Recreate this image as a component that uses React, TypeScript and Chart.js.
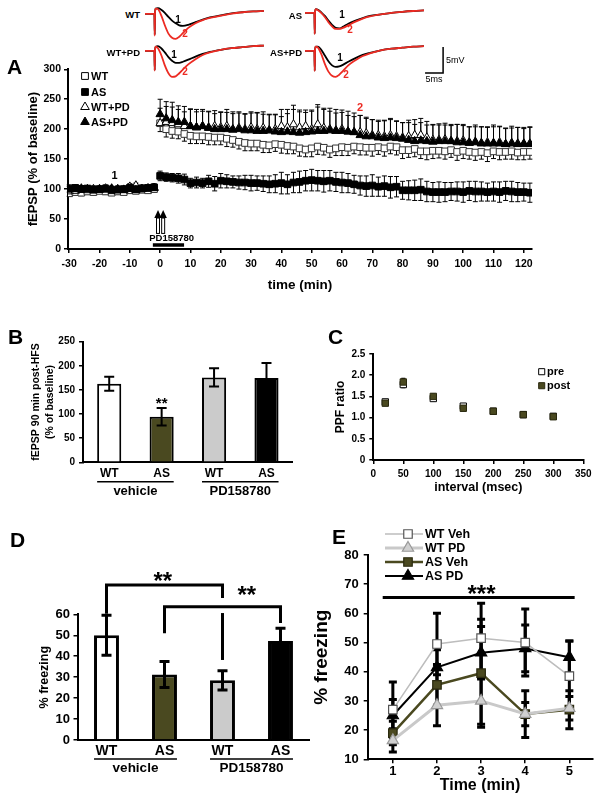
import React, { useEffect, useRef } from 'react';
import { Chart, registerables } from 'chart.js';

Chart.register(...registerables);

const FONT = "'Liberation Sans', Arial, Helvetica, sans-serif";
Chart.defaults.font.family = FONT;
Chart.defaults.color = '#000';

const OLIVE = '#4a4920';
const OLIVE_EDGE = '#2a290f';
const LIGHT = '#cbcbcb';
const RED = '#ec2b23';

// ---------------- Panel A: example traces (ms, mV) ----------------
const traceMs = [0, 2.6, 2.7, 2.8, 3.0, 3.6, 4.5, 5.5, 6.5, 7.5, 8.5, 9.5, 10.5, 12, 14, 16, 18, 21, 24, 27, 30, 33];
const traceWT1 = [0, 0, -4, 0.5, 1.0, 1.1, 0.8, 0.2, -0.6, -1.3, -1.8, -2.2, -2.3, -2.1, -1.6, -1.1, -0.7, -0.3, 0.1, 0.3, 0.45, 0.55];
const traceWT2 = [0, 0, -4.2, 0.5, 1.0, 0.9, -0.3, -2.2, -3.8, -4.6, -4.8, -4.4, -3.7, -2.7, -1.8, -1.2, -0.8, -0.35, 0.05, 0.3, 0.45, 0.55];
const traceAS1 = [0, 0, -4, 0.3, 0.7, 0.6, 0.1, -0.6, -1.5, -2.3, -2.9, -3.0, -2.7, -2.1, -1.5, -1.0, -0.6, -0.3, 0, 0.2, 0.35, 0.45];
const traceAS2 = [0, 0, -4.1, 0.3, 0.7, 0.5, 0, -0.8, -1.8, -2.6, -3.1, -3.1, -2.9, -2.4, -1.7, -1.1, -0.7, -0.3, 0, 0.2, 0.35, 0.45];
const traceWTPD1 = [0, 0, -3.7, 0.3, 0.8, 0.9, 0.5, -0.3, -1.2, -1.9, -2.3, -2.3, -2.1, -1.7, -1.1, -0.6, -0.2, 0.2, 0.5, 0.7, 0.9, 1.0];
const traceWTPD2 = [0, 0, -3.8, 0.3, 0.8, 0.5, -0.8, -2.8, -4.3, -5.0, -4.9, -4.3, -3.6, -2.6, -1.6, -0.8, -0.3, 0.2, 0.5, 0.7, 0.9, 1.0];
const traceASPD1 = [0, 0, -3.8, 0.3, 0.8, 0.8, 0.2, -0.9, -2.0, -2.8, -3.1, -3.0, -2.7, -2.1, -1.4, -0.8, -0.4, 0.1, 0.4, 0.6, 0.8, 0.9];
const traceASPD2 = [0, 0, -3.9, 0.3, 0.8, 0.6, -0.6, -2.5, -4.0, -4.8, -5.0, -4.6, -3.9, -2.8, -1.8, -1.0, -0.5, 0.1, 0.4, 0.6, 0.8, 0.9];

// ---------------- Panel A: time course ----------------
const timeA = [-30, -28, -26, -24, -22, -20, -18, -16, -14, -12, -10, -8, -6, -4, -2,
  0, 2, 4, 6, 8, 10, 12, 14, 16, 18, 20, 22, 24, 26, 28, 30, 32, 34, 36, 38, 40, 42, 44, 46, 48, 50,
  52, 54, 56, 58, 60, 62, 64, 66, 68, 70, 72, 74, 76, 78, 80, 82, 84, 86, 88, 90, 92, 94, 96, 98, 100,
  102, 104, 106, 108, 110, 112, 114, 116, 118, 120, 122];
const ticksA = [-30, -20, -10, 0, 10, 20, 30, 40, 50, 60, 70, 80, 90, 100, 110, 120];
const seriesA = ['WT', 'AS', 'WT+PD', 'AS+PD'];

const wtA = [93, 95, 94, 96, 95, 97, 96, 94, 96, 95, 98, 97, 99, 98, 100,
  210, 200, 197, 196, 192, 189, 188, 188, 187, 186, 186, 184, 182, 179, 177, 176, 176, 174, 173, 175,
  174, 172, 171, 168, 166, 168, 171, 169, 166, 168, 170, 169, 171, 170, 169, 169, 170, 168, 171, 170,
  165, 165, 167, 163, 163, 164, 164, 163, 165, 162, 164, 162, 161, 162, 160, 163, 162, 162, 163, 161, 162, 162];
const wtAErr = [5, 4, 5, 4, 5, 4, 5, 4, 5, 4, 5, 4, 5, 4, 5,
  14, 13, 12, 12, 12, 13, 12, 12, 13, 12, 12, 13, 12, 12, 13, 12, 12, 13, 12, 12, 14, 13, 12, 13, 12,
  14, 13, 12, 13, 12, 14, 13, 12, 13, 12, 14, 12, 13, 12, 13, 14, 12, 13, 12, 14, 13, 12, 13, 12, 14,
  13, 12, 13, 12, 14, 12, 13, 12, 13, 12, 13, 12];
const asA = [101, 102, 100, 101, 99, 100, 101, 98, 99, 100, 102, 100, 101, 102, 103,
  122, 120, 119, 118, 116, 110, 111, 110, 113, 109, 114, 113, 112, 111, 111, 110, 110, 109, 108, 109,
  110, 108, 111, 112, 114, 115, 114, 113, 114, 112, 111, 110, 108, 106, 105, 106, 104, 105, 103, 104,
  98, 98, 98, 99, 96, 95, 95, 95, 96, 96, 95, 97, 96, 96, 95, 96, 95, 97, 96, 95, 95, 94];
const asAErr = [6, 5, 6, 5, 6, 5, 6, 5, 6, 5, 6, 5, 6, 5, 6,
  8, 7, 7, 8, 9, 8, 9, 8, 10, 12, 12, 11, 10, 11, 12, 13, 12, 13, 14, 15, 18, 16, 17, 18, 17,
  18, 17, 18, 17, 16, 17, 16, 15, 16, 17, 18, 16, 17, 18, 17, 15, 16, 17, 18, 17, 16, 17, 16, 15, 16,
  17, 16, 17, 16, 15, 16, 17, 16, 17, 16, 15, 16];
const wtpdA = [96, 97, 99, 98, 100, 99, 101, 100, 99, 98, 104, 106, 100, 101, 102,
  210, 212, 210, 208, 205, 205, 203, 205, 203, 205, 203, 205, 200, 202, 200, 203, 200, 202, 198, 200,
  205, 203, 208, 203, 205, 200, 208, 202, 200, 198, 200, 196, 195, 195, 193, 190, 190, 188, 190, 188,
  186, 188, 190, 190, 186, 182, 182, 183, 180, 180, 181, 178, 179, 177, 178, 176, 178, 175, 177, 176, 175, 176];
const wtpdAErr = [5, 4, 5, 4, 5, 4, 5, 4, 5, 4, 5, 4, 5, 4, 5,
  25, 26, 27, 25, 24, 28, 26, 25, 27, 26, 25, 28, 26, 27, 25, 26, 28, 27, 26, 25, 28, 30, 32, 29, 27,
  30, 33, 31, 30, 29, 28, 27, 26, 28, 27, 26, 25, 27, 28, 26, 25, 27, 26, 28, 27, 26, 25, 27, 26, 28,
  27, 26, 25, 27, 26, 28, 27, 26, 25, 27, 26, 28];
const aspdA = [99, 100, 101, 100, 98, 100, 99, 101, 100, 99, 100, 98, 100, 101, 102,
  225, 218, 215, 212, 212, 205, 203, 205, 202, 200, 200, 200, 199, 200, 198, 198, 197, 197, 198, 196,
  195, 196, 195, 194, 195, 196, 197, 197, 198, 197, 197, 196, 195, 190, 188, 188, 186, 185, 186, 185,
  184, 182, 180, 181, 180, 179, 180, 180, 180, 178, 178, 177, 178, 176, 176, 177, 176, 175, 176, 175, 176, 175];
const aspdAErr = [5, 4, 5, 4, 5, 4, 5, 4, 5, 4, 5, 4, 5, 4, 5,
  25, 28, 30, 27, 26, 29, 30, 28, 27, 26, 29, 28, 30, 27, 28, 29, 30, 28, 27, 28, 26, 30, 38, 35, 33,
  36, 40, 38, 37, 36, 35, 34, 32, 33, 30, 28, 27, 29, 30, 28, 27, 29, 28, 30, 27, 28, 29, 27, 28, 30,
  28, 27, 29, 28, 27, 30, 28, 27, 29, 28, 27, 28];

// ---------------- Panel B ----------------
const barLabels = ['WT', 'AS', 'WT', 'AS'];
const groupLabels = ['vehicle', 'PD158780'];
const ltpB = [163, 94.5, 176, 175];
const ltpBErr = [14.5, 18, 19, 31];

// ---------------- Panel C ----------------
const intervalC = [20, 50, 100, 150, 200, 250, 300];
const preC = [1.37, 1.78, 1.45, 1.27, 1.15, 1.07, 1.03];
const preCErr = [0.05, 0.07, 0.05, 0.04, 0.03, 0.03, 0.03];
const postC = [1.34, 1.84, 1.5, 1.22, 1.15, 1.07, 1.02];
const postCErr = [0.05, 0.08, 0.05, 0.04, 0.03, 0.03, 0.03];

// ---------------- Panel D ----------------
const freezeD = [50, 31.3, 28.5, 47.3];
const freezeDErr = [9.5, 6.2, 4.6, 6];

// ---------------- Panel E ----------------
const minutesE = [1, 2, 3, 4, 5];
const wtVehE = [27, 49.5, 51.5, 50, 38.5];
const wtVehEErr = [9.5, 10.5, 12, 11.5, 12];
const wtPdE = [16.5, 28.5, 30, 25.5, 27.5];
const wtPdEErr = [4, 7, 8, 4, 4];
const asVehE = [19, 35.5, 39.5, 25.5, 27];
const asVehEErr = [4, 7, 18.5, 8, 6.5];
const asPdE = [25, 41.5, 46.5, 48, 45];
const asPdEErr = [5.5, 6, 9, 8, 5.5];

// ---------------- helpers ----------------
function drawErrs(chart: any, phase: string) {
  const ctx = chart.ctx;
  chart.data.datasets.forEach((ds: any, i: number) => {
    if (!ds.errs || (ds.errPhase || 'after') !== phase) return;
    const meta = chart.getDatasetMeta(i);
    const ys = chart.scales[meta.yAxisID];
    const cap = ds.errCap ?? 6;
    const dir = ds.errDir || 'both';
    ctx.save();
    ctx.strokeStyle = ds.errColor || '#000';
    ctx.lineWidth = ds.errWidth || 1;
    meta.data.forEach((el: any, j: number) => {
      const e = ds.errs[j];
      if (e == null) return;
      const raw = ds.data[j];
      const v = typeof raw === 'number' ? raw : raw.y;
      const x = el.x;
      const yv = ys.getPixelForValue(v);
      const yt = ys.getPixelForValue(v + e);
      const yb = ys.getPixelForValue(v - e);
      ctx.beginPath();
      if (dir !== 'down') { ctx.moveTo(x, yv); ctx.lineTo(x, yt); ctx.moveTo(x - cap / 2, yt); ctx.lineTo(x + cap / 2, yt); }
      if (dir !== 'up') { ctx.moveTo(x, yv); ctx.lineTo(x, yb); ctx.moveTo(x - cap / 2, yb); ctx.lineTo(x + cap / 2, yb); }
      ctx.stroke();
    });
    ctx.restore();
  });
}
const errorBars = {
  id: 'errorBars',
  beforeDatasetsDraw(c: any) { drawErrs(c, 'before'); },
  afterDatasetsDraw(c: any) { drawErrs(c, 'after'); },
};
Chart.register(errorBars as any);

function marker(ctx: any, style: string, x: number, y: number, r: number, fill: string, stroke: string, lw: number) {
  ctx.save();
  ctx.beginPath();
  if (style === 'rect') {
    const s = r * Math.SQRT1_2;
    ctx.rect(x - s, y - s, 2 * s, 2 * s);
  } else {
    ctx.moveTo(x, y - r);
    ctx.lineTo(x + r * 0.866, y + r * 0.5);
    ctx.lineTo(x - r * 0.866, y + r * 0.5);
    ctx.closePath();
  }
  ctx.fillStyle = fill;
  ctx.fill();
  if (lw > 0) { ctx.lineWidth = lw; ctx.strokeStyle = stroke; ctx.stroke(); }
  ctx.restore();
}

function label(ctx: any, text: string, x: number, y: number, size: number, align = 'left', color = '#000', weight = 'bold') {
  ctx.save();
  ctx.font = `${weight} ${size}px ${FONT}`;
  ctx.fillStyle = color;
  ctx.textAlign = align;
  ctx.textBaseline = 'middle';
  ctx.fillText(text, x, y);
  ctx.restore();
}

function stars(ctx: any, text: string, cx: number, cy: number, size: number) {
  ctx.save();
  ctx.font = `bold ${size}px ${FONT}`;
  ctx.fillStyle = '#000';
  ctx.textAlign = 'center';
  ctx.textBaseline = 'alphabetic';
  ctx.fillText(text, cx, cy + size * 0.56);
  ctx.restore();
}

function line(ctx: any, pts: number[][], lw: number, color = '#000') {
  ctx.save();
  ctx.strokeStyle = color;
  ctx.lineWidth = lw;
  ctx.beginPath();
  pts.forEach((p, i) => (i ? ctx.lineTo(p[0], p[1]) : ctx.moveTo(p[0], p[1])));
  ctx.stroke();
  ctx.restore();
}

function groupUnder(ctx: any, els: any[], yLine: number, yText: number, size: number, lw: number) {
  [[0, 1], [2, 3]].forEach((pair, g) => {
    const a = els[pair[0]], b = els[pair[1]];
    const x0 = a.x - a.width / 2, x1 = b.x + b.width / 2;
    line(ctx, [[x0, yLine], [x1, yLine]], lw);
    label(ctx, groupLabels[g], (x0 + x1) / 2, yText, size, 'center');
  });
}

const ttl = (text: any, size: number, pad: any = 0, lh = 1.2) => ({
  display: true, text, color: '#000', padding: pad,
  font: { family: FONT, weight: 'bold', size, lineHeight: lh },
});

function linAxis(o: any) {
  return {
    type: 'linear', min: o.min, max: o.max,
    border: { display: true, color: '#000', width: 2 },
    grid: { display: true, drawOnChartArea: false, drawTicks: o.tl !== 0, tickLength: o.tl ?? 4, color: '#000', lineWidth: 1.5 },
    ticks: { stepSize: o.step, color: '#000', font: { family: FONT, weight: 'bold', size: o.size }, padding: o.pad ?? 2 },
    afterBuildTicks: o.ticks ? (s: any) => { s.ticks = o.ticks.map((v: number) => ({ value: v })); } : undefined,
    afterFit: o.fit,
    title: o.title || { display: false },
  };
}

function catAxis(o: any) {
  return {
    type: 'category', offset: true,
    border: { display: true, color: '#000', width: 2 },
    grid: { display: false, drawTicks: false },
    ticks: { color: '#000', font: { family: FONT, weight: 'bold', size: o.size }, padding: o.pad ?? 3 },
    afterFit: o.fit,
  };
}

const baseOpts = (padding: any, scales: any) => ({
  animation: false, responsive: false, devicePixelRatio: 1, events: [],
  layout: { padding },
  plugins: { legend: { display: false }, tooltip: { enabled: false } },
  scales,
});

// ---------------- chart configs ----------------
function traceCfg(black: number[], red: number[], xMax: number, yMin: number, extra?: any) {
  return {
    type: 'line',
    data: {
      datasets: [
        { data: traceMs.map((t, i) => ({ x: t, y: red[i] })), borderColor: RED, borderWidth: 1.8, pointRadius: 0, cubicInterpolationMode: 'monotone' },
        { data: traceMs.map((t, i) => ({ x: t, y: black[i] })), borderColor: '#000', borderWidth: 1.8, pointRadius: 0, cubicInterpolationMode: 'monotone' },
      ],
    },
    options: baseOpts(0, {
      x: { type: 'linear', display: false, min: 0, max: xMax },
      y: { type: 'linear', display: false, min: yMin, max: 1.5 },
    }),
    plugins: extra ? [extra] : [],
  };
}

const scaleBar = {
  id: 'scaleBar',
  afterDraw(chart: any) {
    const { ctx, scales: { x, y } } = chart;
    line(ctx, [[x.getPixelForValue(33.3), y.getPixelForValue(-4.27)], [x.getPixelForValue(38.3), y.getPixelForValue(-4.27)], [x.getPixelForValue(38.3), y.getPixelForValue(0.73)]], 1.5);
    label(ctx, '5mV', x.getPixelForValue(39.1), y.getPixelForValue(-1.8), 9, 'left', '#000', 'normal');
    label(ctx, '5ms', x.getPixelForValue(35.8), y.getPixelForValue(-5.6), 9, 'center', '#000', 'normal');
  },
};

const annotA = {
  id: 'annotA',
  afterDraw(chart: any) {
    const { ctx, scales: { x, y } } = chart;
    const rows = [16, 32, 47, 62];
    chart.data.datasets.forEach((ds: any, i: number) => {
      marker(ctx, ds.pointStyle, 85, rows[i], ds.pointStyle === 'rect' ? 4.8 : 5, ds.pointBackgroundColor, '#000', 1);
      label(ctx, ds.label, 91, rows[i] + 0.5, 11);
    });
    label(ctx, '1', x.getPixelForValue(-15), y.getPixelForValue(122), 11, 'center');
    label(ctx, '2', x.getPixelForValue(66), y.getPixelForValue(235), 11, 'center', RED);
    [-0.7, 1.0].forEach((t) => {
      const px = x.getPixelForValue(t);
      const yTop = y.getPixelForValue(65), yHB = y.getPixelForValue(51.7), yEnd = y.getPixelForValue(26);
      ctx.save();
      ctx.fillStyle = '#000';
      ctx.beginPath(); ctx.moveTo(px, yTop); ctx.lineTo(px + 3.7, yHB); ctx.lineTo(px - 3.7, yHB); ctx.closePath(); ctx.fill();
      ctx.strokeStyle = '#000'; ctx.lineWidth = 1;
      ctx.strokeRect(px - 1.5, yHB, 3, yEnd - yHB);
      ctx.restore();
    });
    label(ctx, 'PD158780', x.getPixelForValue(3.8), y.getPixelForValue(18.3), 9.5, 'center');
    line(ctx, [[x.getPixelForValue(-2.4), y.getPixelForValue(6.7)], [x.getPixelForValue(7.9), y.getPixelForValue(6.7)]], 3.5);
  },
};

function cfgA() {
  const pts = (vals: number[]) => timeA.map((t, i) => ({ x: t, y: vals[i] }));
  const common = { showLine: false, pointBorderWidth: 1, pointBorderColor: '#000', errPhase: 'before', errWidth: 1, errCap: 5 };
  return {
    type: 'scatter',
    data: {
      datasets: [
        { ...common, label: seriesA[0], data: pts(wtA), errs: wtAErr, errDir: 'down', pointStyle: 'rect', pointRadius: 4.7, pointBackgroundColor: '#fff', pointBorderColor: '#333', order: 3 },
        { ...common, label: seriesA[1], data: pts(asA), errs: asAErr, errDir: 'both', pointStyle: 'rect', pointRadius: 4.7, pointBackgroundColor: '#000', order: 0 },
        { ...common, label: seriesA[2], data: pts(wtpdA), errs: wtpdAErr, errDir: 'up', pointStyle: 'triangle', pointRadius: 4.8, pointBackgroundColor: '#fff', order: 2 },
        { ...common, label: seriesA[3], data: pts(aspdA), errs: aspdAErr, errDir: 'up', pointStyle: 'triangle', pointRadius: 4.8, pointBackgroundColor: '#000', order: 1 },
      ],
    },
    options: baseOpts({ left: 26, right: 28, top: 9, bottom: 0 }, {
      x: linAxis({ min: -30.4, max: 122.7, ticks: ticksA, size: 10.5, pad: 5, fit: (s: any) => { s.height = 51; }, title: ttl('time (min)', 13.5, { top: 0, bottom: 7 }) }),
      y: linAxis({ min: 0, max: 300, step: 50, size: 10.5, pad: 3, fit: (s: any) => { s.width = 42; }, title: ttl('fEPSP (% of baseline)', 13, 0) }),
    }),
    plugins: [annotA],
  };
}

const annotB = {
  id: 'annotB',
  afterDraw(chart: any) {
    const { ctx, scales: { y }, chartArea } = chart;
    const els = chart.getDatasetMeta(0).data;
    stars(ctx, '**', els[1].x, y.getPixelForValue(129), 15);
    groupUnder(ctx, els, chartArea.bottom + 19.4, chartArea.bottom + 29.6, 13, 1.5);
  },
};

function cfgB() {
  return {
    type: 'bar',
    data: {
      labels: barLabels,
      datasets: [{
        data: ltpB, errs: ltpBErr, errWidth: 2, errCap: 10,
        backgroundColor: ['#fff', OLIVE, LIGHT, '#000'], borderColor: '#000', borderWidth: 2,
        barPercentage: 0.46, categoryPercentage: 1,
      }],
    },
    options: baseOpts({ left: 30, right: 7.3, top: 21.7, bottom: 0 }, {
      x: catAxis({ size: 12, pad: 4, fit: (s: any) => { s.height = 42.7; } }),
      y: linAxis({ min: 0, max: 250, step: 50, size: 10, pad: 4, fit: (s: any) => { s.width = 53; }, title: ttl(['fEPSP 90 min post-HFS', '(% of baseline)'], 10.5, 0, 1.25) }),
    }),
    plugins: [annotB],
  };
}

const annotC = {
  id: 'annotC',
  afterDraw(chart: any) {
    const { ctx } = chart;
    const dsPre = chart.data.datasets[1], dsPost = chart.data.datasets[0];
    marker(ctx, 'rect', 241.7, 41.7, 4.3, dsPre.pointBackgroundColor, '#000', 1);
    label(ctx, dsPre.label, 247, 42, 11);
    marker(ctx, 'rect', 241.7, 55.7, 4.3, dsPost.pointBackgroundColor, OLIVE_EDGE, 1);
    label(ctx, dsPost.label, 247, 56, 11);
  },
};

function cfgC() {
  const common = { showLine: false, pointStyle: 'rect', pointRadius: 4.5, pointBorderWidth: 1, errWidth: 1.5, errCap: 4, errPhase: 'before' };
  return {
    type: 'scatter',
    data: {
      datasets: [
        { ...common, label: 'post', data: intervalC.map((t, i) => ({ x: t, y: postC[i] })), errs: postCErr, pointBackgroundColor: OLIVE, pointBorderColor: OLIVE_EDGE },
        { ...common, label: 'pre', data: intervalC.map((t, i) => ({ x: t, y: preC[i] })), errs: preCErr, pointBackgroundColor: '#fff', pointBorderColor: '#000' },
      ],
    },
    options: baseOpts({ left: 33, right: 16.7, top: 24, bottom: 0 }, {
      x: linAxis({ min: 0, max: 350, step: 50, size: 10, pad: 4, fit: (s: any) => { s.height = 40; }, title: ttl('interval (msec)', 12.5, { top: 0, bottom: 5 }) }),
      y: linAxis({ min: 0, max: 2.5, step: 0.5, size: 10, pad: 4, fit: (s: any) => { s.width = 40.3; }, title: ttl('PPF ratio', 12, 0) }),
    }),
    plugins: [annotC],
  };
}

const annotD = {
  id: 'annotD',
  afterDraw(chart: any) {
    const { ctx, scales: { x, y }, chartArea } = chart;
    const els = chart.getDatasetMeta(0).data;
    const xs = els.map((e: any) => e.x);
    const Y = (v: number) => y.getPixelForValue(v);
    line(ctx, [[xs[0], Y(60.3)], [xs[0], Y(74)], [xs[2], Y(74)], [xs[2], Y(67.8)]], 3);
    line(ctx, [[xs[2], Y(60.6)], [xs[2], Y(38.2)]], 3);
    line(ctx, [[xs[1], Y(51)], [xs[1], Y(63.6)], [xs[3], Y(63.6)], [xs[3], Y(55.8)]], 3);
    stars(ctx, '**', x.getPixelForValue(0.97), Y(78.3), 24);
    stars(ctx, '**', x.getPixelForValue(2.42), Y(71.6), 24);
    groupUnder(ctx, els, chartArea.bottom + 19, chartArea.bottom + 28, 13.5, 1.5);
  },
};

function cfgD() {
  return {
    type: 'bar',
    data: {
      labels: barLabels,
      datasets: [{
        data: freezeD, errs: freezeDErr, errWidth: 3, errCap: 10,
        backgroundColor: ['#fff', OLIVE, LIGHT, '#000'], borderColor: '#000', borderWidth: 3,
        barPercentage: 0.43, categoryPercentage: 1,
      }],
    },
    options: baseOpts({ left: 37, right: 10.5, top: 54.3, bottom: 0 }, {
      x: catAxis({ size: 14, pad: 2.5, fit: (s: any) => { s.height = 50; } }),
      y: linAxis({ min: 0, max: 60, step: 10, size: 13, pad: 3.5, fit: (s: any) => { s.width = 40.5; }, title: ttl('% freezing', 12.5, 0) }),
    }),
    plugins: [annotD],
  };
}

const annotE = {
  id: 'annotE',
  afterDraw(chart: any) {
    const { ctx, scales: { x, y } } = chart;
    const rows = [14, 28, 42, 56];
    chart.data.datasets.forEach((ds: any, i: number) => {
      line(ctx, [[85, rows[i]], [123, rows[i]]], ds.borderWidth, ds.borderColor);
      marker(ctx, ds.pointStyle, 108, rows[i], ds.pointRadius, ds.pointBackgroundColor, ds.pointBorderColor, ds.pointBorderWidth);
      label(ctx, ds.label, 125, rows[i] + 0.5, 12.5);
    });
    const yl = y.getPixelForValue(65.4);
    line(ctx, [[x.getPixelForValue(0.77), yl], [x.getPixelForValue(5.12), yl]], 3);
    stars(ctx, '***', x.getPixelForValue(3.01), y.getPixelForValue(68.6), 24);
  },
};

function cfgE() {
  const pts = (vals: number[]) => minutesE.map((t, i) => ({ x: t, y: vals[i] }));
  const common = { errWidth: 3, errCap: 8, errPhase: 'before', pointBorderWidth: 1.2 };
  return {
    type: 'line',
    data: {
      datasets: [
        { ...common, label: 'WT Veh', data: pts(wtVehE), errs: wtVehEErr, borderColor: '#bdbdbd', borderWidth: 1.5, pointStyle: 'rect', pointRadius: 6, pointBackgroundColor: '#fff', pointBorderColor: '#555' },
        { ...common, label: 'WT PD', data: pts(wtPdE), errs: wtPdEErr, borderColor: '#c9c9c9', borderWidth: 3, pointStyle: 'triangle', pointRadius: 6.5, pointBackgroundColor: '#d0d0d0', pointBorderColor: '#999' },
        { ...common, label: 'AS Veh', data: pts(asVehE), errs: asVehEErr, borderColor: OLIVE, borderWidth: 2.5, pointStyle: 'rect', pointRadius: 6, pointBackgroundColor: OLIVE, pointBorderColor: OLIVE_EDGE },
        { ...common, label: 'AS PD', data: pts(asPdE), errs: asPdEErr, borderColor: '#000', borderWidth: 2, pointStyle: 'triangle', pointRadius: 6.5, pointBackgroundColor: '#000', pointBorderColor: '#000' },
      ],
    },
    options: baseOpts({ left: 10, right: 5, top: 35, bottom: 0 }, {
      x: linAxis({ min: 0.43, max: 5.52, ticks: minutesE, size: 13, pad: 0, fit: (s: any) => { s.height = 41.7; }, title: ttl('Time (min)', 16, { top: 0, bottom: 5.4 }) }),
      y: linAxis({ min: 10, max: 80, step: 10, size: 13, pad: 5, fit: (s: any) => { s.width = 57.7; }, title: ttl('% freezing', 19, 0) }),
    }),
    plugins: [annotE],
  };
}

// ---------------- components ----------------
function ChartBox({ x, y, w, h, cfg }: any) {
  const ref = useRef<HTMLCanvasElement | null>(null);
  useEffect(() => {
    const chart = new Chart(ref.current as HTMLCanvasElement, cfg() as any);
    return () => chart.destroy();
  }, []);
  return <canvas ref={ref} width={w} height={h} style={{ position: 'absolute', left: x, top: y, width: w, height: h }} />;
}

function Txt({ x, y, s, children, color = '#000', align = 'left' }: any) {
  const style: any = {
    position: 'absolute', top: y - s * 0.6, fontSize: s, lineHeight: `${s * 1.2}px`,
    fontWeight: 'bold', color, fontFamily: FONT, whiteSpace: 'nowrap',
  };
  if (align === 'right') style.right = 600 - x;
  else if (align === 'center') { style.left = x; style.transform = 'translateX(-50%)'; }
  else style.left = x;
  return <div style={style}>{children}</div>;
}

export default function App() {
  return (
    <div style={{ position: 'fixed', left: 0, top: 0, width: 600, height: 801, background: '#fff', overflow: 'hidden', fontFamily: FONT }}>
      <ChartBox x={145} y={6} w={119} h={37} cfg={() => traceCfg(traceWT1, traceWT2, 33, -5.6)} />
      <ChartBox x={305} y={5} w={119} h={37} cfg={() => traceCfg(traceAS1, traceAS2, 33, -5.6)} />
      <ChartBox x={145} y={43} w={119} h={37} cfg={() => traceCfg(traceWTPD1, traceWTPD2, 33, -5.6)} />
      <ChartBox x={305} y={43} w={165} h={45} cfg={() => traceCfg(traceASPD1, traceASPD2, 45.76, -7.15, scaleBar)} />
      <Txt x={140} y={15} s={9.5} align="right">WT</Txt>
      <Txt x={302} y={16} s={9.5} align="right">AS</Txt>
      <Txt x={140} y={53} s={9.5} align="right">WT+PD</Txt>
      <Txt x={302} y={53} s={9.5} align="right">AS+PD</Txt>
      <Txt x={178} y={20} s={10} align="center">1</Txt>
      <Txt x={185} y={34} s={10} align="center" color={RED}>2</Txt>
      <Txt x={342} y={15} s={10} align="center">1</Txt>
      <Txt x={350} y={30} s={10} align="center" color={RED}>2</Txt>
      <Txt x={174} y={55} s={10} align="center">1</Txt>
      <Txt x={185} y={72} s={10} align="center" color={RED}>2</Txt>
      <Txt x={340} y={58} s={10} align="center">1</Txt>
      <Txt x={346} y={75} s={10} align="center" color={RED}>2</Txt>

      <ChartBox x={0} y={60} w={560} h={240} cfg={cfgA} />
      <ChartBox x={0} y={320} w={300} h={185} cfg={cfgB} />
      <ChartBox x={300} y={330} w={300} h={170} cfg={cfgC} />
      <ChartBox x={0} y={560} w={320} h={230} cfg={cfgD} />
      <ChartBox x={300} y={520} w={300} h={281} cfg={cfgE} />

      <Txt x={7} y={67} s={21}>A</Txt>
      <Txt x={8} y={337} s={21}>B</Txt>
      <Txt x={328} y={337} s={21}>C</Txt>
      <Txt x={10} y={540} s={21}>D</Txt>
      <Txt x={332} y={537} s={21}>E</Txt>
    </div>
  );
}
